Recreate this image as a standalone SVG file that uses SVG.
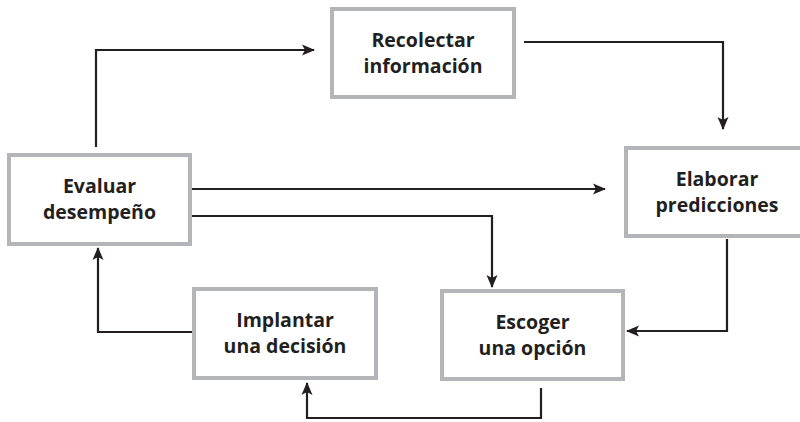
<svg xmlns="http://www.w3.org/2000/svg" width="800" height="422" viewBox="0 0 800 422">
  <style>
    .box { fill: #ffffff; stroke: #b4b5b8; stroke-width: 4; }
    .label { font-family: "Open Sans", "Liberation Sans", sans-serif; font-weight: 700; font-size: 19.5px; fill: #231f20; text-anchor: middle; }
    .link { fill: none; stroke: #231f20; stroke-width: 2.2; marker-end: url(#arrow); }
  </style>
  <defs>
    <marker id="arrow" markerUnits="userSpaceOnUse" markerWidth="13" markerHeight="13" viewBox="0 0 13 13" refX="12" refY="6.5" orient="auto">
      <path d="M0,1 L13,6.5 L0,12 L3,6.5 z" fill="#231f20"/>
    </marker>
  </defs>
  <rect width="800" height="422" fill="#ffffff"/>

  <g id="connectors">
    <!-- Evaluar -> Recolectar -->
    <path class="link" d="M96,147 V50 H314"/>
    <!-- Recolectar -> Elaborar -->
    <path class="link" d="M524,42 H723 V129"/>
    <!-- Evaluar -> Elaborar -->
    <path class="link" d="M189,189 H605"/>
    <!-- Evaluar -> Escoger -->
    <path class="link" d="M190,216 H492 V287"/>
    <!-- Elaborar -> Escoger -->
    <path class="link" d="M727,239 V331 H627"/>
    <!-- Escoger -> Implantar -->
    <path class="link" d="M541,388 V418 H307 V383"/>
    <!-- Implantar -> Evaluar -->
    <path class="link" d="M192,332 H98 V248"/>
  </g>

  <g id="recolectar">
    <rect class="box" x="332" y="9" width="182" height="88"/>
    <text class="label" x="423" y="46.5">Recolectar</text>
    <text class="label" x="423" y="72.5">información</text>
  </g>

  <g id="elaborar">
    <rect class="box" x="626" y="148" width="184" height="88"/>
    <text class="label" x="717" y="185.5">Elaborar</text>
    <text class="label" x="717" y="211.5">predicciones</text>
  </g>

  <g id="evaluar">
    <rect class="box" x="9" y="155" width="181" height="89"/>
    <text class="label" x="99.5" y="193">Evaluar</text>
    <text class="label" x="99.5" y="219">desempeño</text>
  </g>

  <g id="escoger">
    <rect class="box" x="442" y="291" width="181" height="88"/>
    <text class="label" x="532.5" y="328.5">Escoger</text>
    <text class="label" x="532.5" y="354.5">una opción</text>
  </g>

  <g id="implantar">
    <rect class="box" x="194" y="289" width="182" height="89"/>
    <text class="label" x="285" y="327">Implantar</text>
    <text class="label" x="285" y="353">una decisión</text>
  </g>
</svg>
